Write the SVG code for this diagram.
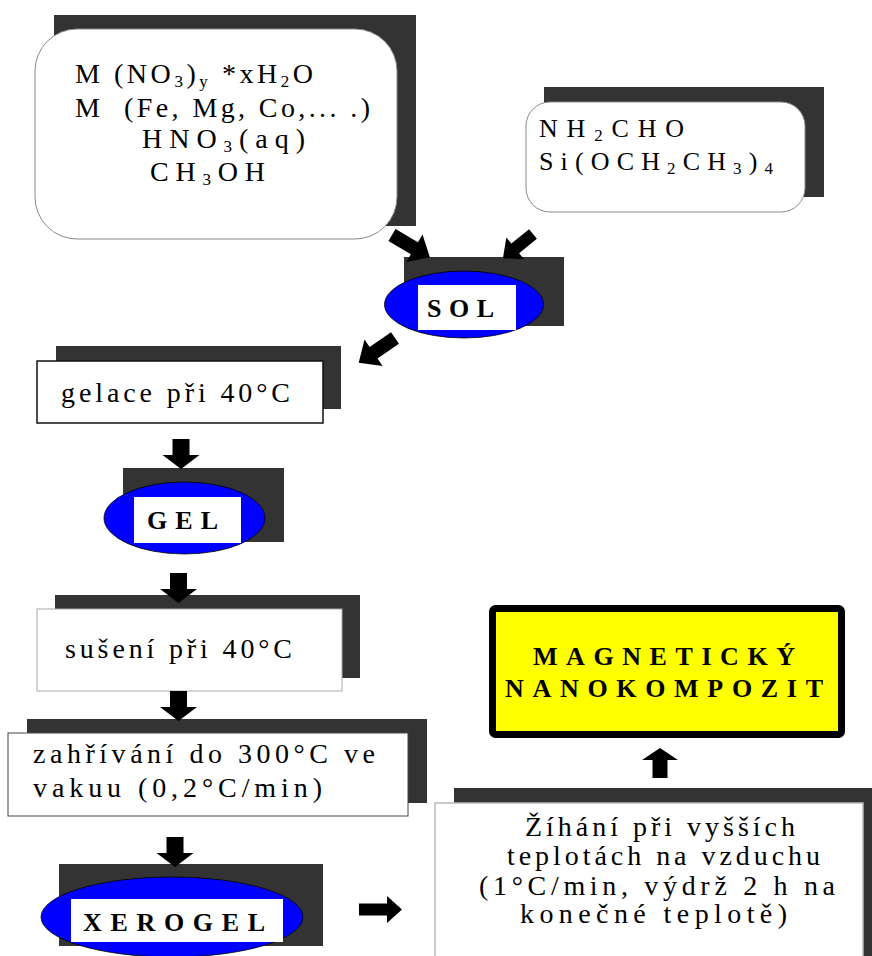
<svg xmlns="http://www.w3.org/2000/svg" xmlns:xlink="http://www.w3.org/1999/xlink" width="872" height="956" viewBox="0 0 872 956">
<style>
.sh{fill:#333333}
.t{font-family:"Liberation Serif","Times New Roman",serif;font-size:28px;fill:#000;white-space:pre}
.t2{font-family:"Liberation Serif","Times New Roman",serif;font-size:26px;fill:#000}
.b{font-family:"Liberation Serif","Times New Roman",serif;font-size:26px;font-weight:bold;fill:#000}
.sub{font-size:17px}
.el{fill:#0000ff;stroke:#000;stroke-width:0.8}
.ar{fill:#000}
</style>
<defs>
<path id="ad" d="M-8.5,0 H8.5 V16 H18.5 L0,30 L-18.5,16 H-8.5 Z"/>
<path id="ag" d="M0,-7 H26 V-16 L44,0 L26,16 V7 H0 Z"/>
</defs>
<rect width="872" height="956" fill="#fff"/>

<g id="reactants1">
<rect class="sh" x="54" y="15" width="362" height="211"/>
<rect x="35" y="29" width="362" height="210" rx="42" fill="#fff" stroke="#8a8a8a" stroke-width="1"/>
<text class="t" x="75" y="83" textLength="238" lengthAdjust="spacing">M (NO<tspan class="sub" dy="4">3</tspan><tspan dy="-4">)</tspan><tspan class="sub" dy="4">y</tspan><tspan dy="-4"> *xH</tspan><tspan class="sub" dy="4">2</tspan><tspan dy="-4">O</tspan></text>
<text class="t" x="75" y="117" textLength="295" lengthAdjust="spacing">M  (Fe, Mg, Co,... .)</text>
<text class="t" x="142" y="148" textLength="163" lengthAdjust="spacing">HNO<tspan class="sub" dy="4">3</tspan><tspan dy="-4">(aq)</tspan></text>
<text class="t" x="150" y="181" textLength="115" lengthAdjust="spacing">CH<tspan class="sub" dy="4">3</tspan><tspan dy="-4">OH</tspan></text>
</g>

<g id="reactants2">
<rect class="sh" x="544" y="87" width="280" height="110"/>
<rect x="526" y="102" width="279" height="110" rx="24" fill="#fff" stroke="#8a8a8a" stroke-width="1"/>
<text class="t2" x="539" y="137" textLength="145" lengthAdjust="spacing">NH<tspan class="sub" dy="4">2</tspan><tspan dy="-4">CHO</tspan></text>
<text class="t2" x="539" y="170" textLength="234" lengthAdjust="spacing">Si(OCH<tspan class="sub" dy="4">2</tspan><tspan dy="-4">CH</tspan><tspan class="sub" dy="4">3</tspan><tspan dy="-4">)</tspan><tspan class="sub" dy="4">4</tspan></text>
</g>

<g id="sol">
<rect class="sh" x="404" y="257" width="160" height="69"/>
<ellipse class="el" cx="464" cy="304.5" rx="79.5" ry="33.5"/>
<rect x="418" y="285" width="98" height="45" fill="#fff"/>
<text class="b" x="427" y="317" textLength="67" lengthAdjust="spacing">SOL</text>
</g>

<g id="gelace">
<rect class="sh" x="56" y="346" width="285" height="63"/>
<rect x="37" y="361" width="286" height="62" fill="#fff" stroke="#111" stroke-width="1.5"/>
<text class="t" x="61" y="402" textLength="229" lengthAdjust="spacing">gelace při 40°C</text>
</g>

<g id="gel">
<rect class="sh" x="123" y="468" width="161" height="74"/>
<ellipse class="el" cx="184.5" cy="518" rx="80.5" ry="36"/>
<rect x="134" y="497" width="107" height="46" fill="#fff"/>
<text class="b" x="147" y="529" textLength="71" lengthAdjust="spacing">GEL</text>
</g>

<g id="suseni">
<rect class="sh" x="55" y="595" width="305" height="83"/>
<rect x="37" y="609" width="305" height="82" fill="#fff" stroke="#aaaaaa" stroke-width="1"/>
<text class="t" x="65" y="658" textLength="227" lengthAdjust="spacing">sušení při 40°C</text>
</g>

<g id="zahrivani">
<rect class="sh" x="27" y="719" width="400" height="84"/>
<rect x="8" y="733" width="400" height="83" fill="#fff" stroke="#444" stroke-width="1"/>
<text class="t" x="33" y="763" textLength="342" lengthAdjust="spacing">zahřívání do 300°C ve</text>
<text class="t" x="33" y="797" textLength="289" lengthAdjust="spacing">vakuu (0,2°C/min)</text>
</g>

<g id="xerogel">
<rect class="sh" x="59" y="864" width="264" height="82"/>
<ellipse class="el" cx="172" cy="917" rx="131" ry="40"/>
<rect x="71" y="899" width="212" height="43" fill="#fff"/>
<text class="b" x="83" y="931" textLength="182" lengthAdjust="spacing">XEROGEL</text>
</g>

<g id="zihani">
<rect class="sh" x="454" y="788" width="418" height="168"/>
<rect x="435" y="803" width="428" height="160" fill="#fff" stroke="#bbbbbb" stroke-width="1.5"/>
<text class="t" x="525" y="836" textLength="270" lengthAdjust="spacing">Žíhání při vyšších</text>
<text class="t" x="507" y="865" textLength="313" lengthAdjust="spacing">teplotách na vzduchu</text>
<text class="t" x="479" y="895" textLength="356" lengthAdjust="spacing">(1°C/min, výdrž 2 h na</text>
<text class="t" x="520" y="923" textLength="267" lengthAdjust="spacing">konečné teplotě)</text>
</g>

<g id="nanokompozit">
<rect x="492.5" y="608.5" width="349" height="126" rx="3" fill="#ffff00" stroke="#000" stroke-width="7"/>
<text class="b" x="533" y="665" textLength="262" lengthAdjust="spacing">MAGNETICKÝ</text>
<text class="b" x="505" y="697" textLength="318" lengthAdjust="spacing">NANOKOMPOZIT</text>
</g>

<g id="connectors" class="ar">
<use xlink:href="#ag" transform="translate(392,235) rotate(30.5)"/>
<use xlink:href="#ag" transform="translate(533,234) rotate(141) scale(0.88)"/>
<use xlink:href="#ag" transform="translate(395,338) rotate(145.6)"/>
<use xlink:href="#ad" x="181" y="439"/>
<use xlink:href="#ad" x="178.5" y="573"/>
<use xlink:href="#ad" x="178.5" y="691"/>
<use xlink:href="#ad" x="175" y="837"/>
<path d="M359,903.5 H387 V896 L402,909.5 L387,923 V915.5 H359 Z"/>
<path d="M652.5,778 V760 H642 L660,748 L678,760 H667.5 V778 Z"/>
</g>
</svg>
